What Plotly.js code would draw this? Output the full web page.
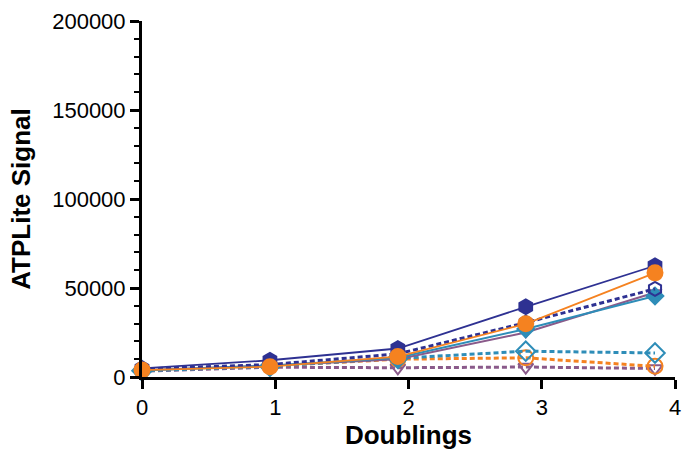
<!DOCTYPE html>
<html>
<head>
<meta charset="utf-8">
<script src="https://cdn.plot.ly/plotly-3.0.1.min.js"></script>
<style>html,body{margin:0;padding:0;background:#fff;}#chart{width:682px;height:457px;}</style>
</head>
<body>
<div id="chart"></div>
<script>
const doublings = [0, 0.96, 1.92, 2.88, 3.85];

const navySolid   = [4800, 9400, 16000, 39400, 62500];
const orangeSolid = [3900, 5800, 11500, 29900, 58500];
const navyDashed  = [4500, 7000, 13000, 30500, 49500];
const tealSolid   = [3600, 6300, 10800, 27000, 45500];
const purpleSolid = [3800, 6500, 10000, 25000, 47500];
const tealDashed  = [3500, 6000, 10500, 14500, 13500];
const orangeDashed= [3800, 6200, 10000, 10800, 6000];
const purpleDashed= [3300, 5500, 5200, 5600, 4800];

const navy = '#2E3192', orange = '#F58220', teal = '#2E8DB8', purple = '#8A5A8A';

function tr(y, color, dash, symbol, size, lw) {
  const open = symbol.indexOf('open') >= 0;
  return {
    x: doublings, y: y, type: 'scatter', mode: 'lines+markers',
    line: {color: color, width: lw, dash: dash},
    marker: {symbol: symbol, size: size, color: color,
             line: {color: color, width: open ? 2 : 0}},
    cliponaxis: false, showlegend: false
  };
}

const data = [
  tr(purpleDashed, purple, '5px,3px', 'triangle-down-open', 13, 3),
  tr(orangeDashed, orange, '5px,3px', 'circle-open', 15, 3),
  tr(tealDashed, teal, '5px,3px', 'diamond-open', 15, 3),
  tr(purpleSolid, purple, 'solid', 'triangle-down', 13, 2),
  tr(tealSolid, teal, 'solid', 'diamond', 15, 2),
  tr(navyDashed, navy, '5px,3px', 'hexagon-open', 14, 3),
  tr(navySolid, navy, 'solid', 'hexagon', 17, 1.8),
  tr(orangeSolid, orange, 'solid', 'circle', 17, 1.8)
];

const layout = {
  width: 682, height: 457,
  margin: {l: 142, r: 7, t: 21, b: 80},
  paper_bgcolor: '#fff', plot_bgcolor: '#fff',
  font: {family: 'Liberation Sans, Arial, sans-serif', color: '#000'},
  xaxis: {
    range: [0, 4], tickvals: [0, 1, 2, 3, 4], ticktext: ['0','1','2','3','4'],
    showgrid: false, zeroline: false, showline: true, linecolor: '#000', linewidth: 3,
    ticks: 'outside', ticklen: 9, tickwidth: 3, tickcolor: '#000',
    tickfont: {size: 22}, fixedrange: true,
    title: {text: '<b>Doublings</b>', font: {size: 26}, standoff: 6}
  },
  yaxis: {
    range: [0, 200000], tickvals: [0, 50000, 100000, 150000, 200000],
    ticktext: ['0','50000','100000','150000','200000'],
    showgrid: false, zeroline: false, showline: true, linecolor: '#000', linewidth: 3,
    ticks: 'outside', ticklen: 9, tickwidth: 3, tickcolor: '#000',
    tickfont: {size: 22},
    minor: {dtick: 10000, ticks: 'outside', ticklen: 5, tickwidth: 2, tickcolor: '#000', showgrid: false},
    title: {text: '<b>ATPLite Signal</b>', font: {size: 26}, standoff: 15}
  }
};

Plotly.newPlot('chart', data, layout, {displayModeBar: false, staticPlot: true});
</script>
</body>
</html>
